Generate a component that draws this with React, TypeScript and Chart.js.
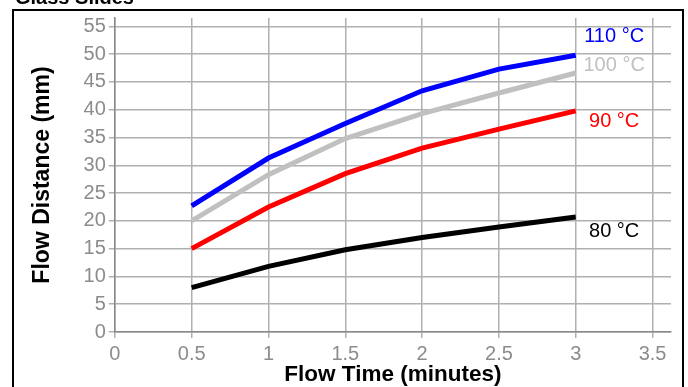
import React, { useEffect, useRef } from "react";
import { Chart, registerables } from "chart.js";

Chart.register(...registerables);

const times = [0.5, 1, 1.5, 2, 2.5, 3];
const series110 = [22.7, 31.3, 37.5, 43.4, 47.3, 49.8];
const series100 = [20.0, 28.3, 34.8, 39.3, 43.0, 46.6];
const series90 = [15.0, 22.5, 28.5, 33.1, 36.5, 39.8];
const series80 = [8.0, 11.8, 14.8, 17.0, 18.9, 20.7];
const seriesNames = ["110 °C", "100 °C", "90 °C", "80 °C"];
const seriesColors = ["#0000ff", "#c0c0c0", "#ff0000", "#000000"];
const labelTimes = [3.25, 3.25, 3.25, 3.25];
const labelValues = [53.1, 47.9, 37.9, 18.0];

const FONT = "'Liberation Sans', Arial, sans-serif";

const decorPlugin = {
  id: "decor",
  beforeDraw(chart: any) {
    const ctx = chart.ctx;
    ctx.save();
    ctx.fillStyle = "#ffffff";
    ctx.fillRect(0, 0, chart.width, chart.height);
    ctx.restore();
  },
  afterDraw(chart: any) {
    const ctx = chart.ctx;
    const xs = chart.scales.x;
    const ys = chart.scales.y;
    ctx.save();
    // frame
    ctx.strokeStyle = "#000000";
    ctx.lineWidth = 2;
    ctx.strokeRect(13, 10, 670, 420);
    // title (cut off at top)
    ctx.fillStyle = "#000000";
    ctx.font = `bold 20px ${FONT}`;
    ctx.textAlign = "left";
    ctx.textBaseline = "alphabetic";
    ctx.fillText("Glass Slides", 15, 4);
    // series labels
    ctx.font = `20px ${FONT}`;
    ctx.textAlign = "center";
    ctx.textBaseline = "middle";
    seriesNames.forEach((name, i) => {
      ctx.fillStyle = seriesColors[i];
      ctx.fillText(name, xs.getPixelForValue(labelTimes[i]), ys.getPixelForValue(labelValues[i]));
    });
    ctx.restore();
  },
};

export default function App() {
  const ref = useRef<HTMLCanvasElement>(null);
  useEffect(() => {
    document.body.style.margin = "0";
    const mk = (arr: number[]) => times.map((t, i) => ({ x: t, y: arr[i] }));
    const allSeries = [series110, series100, series90, series80];
    const chart = new Chart(ref.current!, {
      type: "line",
      data: {
        datasets: allSeries.map((s, i) => ({
          label: seriesNames[i],
          data: mk(s),
          borderColor: seriesColors[i],
          backgroundColor: seriesColors[i],
          borderWidth: 5,
          pointRadius: 0,
          tension: 0,
          fill: false,
        })),
      },
      options: {
        responsive: false,
        animation: false,
        devicePixelRatio: 1,
        layout: { padding: { left: 25, right: 17, top: 18, bottom: 0 } },
        plugins: { legend: { display: false }, tooltip: { enabled: false }, title: { display: false } },
        scales: {
          x: {
            type: "linear",
            min: 0,
            max: 3.62,
            ticks: {
              stepSize: 0.5,
              includeBounds: false,
              color: "#8c8c8c",
              font: { family: FONT, size: 20 },
              padding: 4.5,
              maxRotation: 0,
              callback: (v: any) => `${v}`,
            },
            grid: { color: "#b0b0b0", lineWidth: 1.5, tickLength: 6 },
            border: { display: true, color: "#888888", width: 1.5 },
            title: {
              display: true,
              text: "Flow Time (minutes)",
              color: "#000000",
              font: { family: FONT, size: 22.5, weight: "bold" },
              padding: { top: -10, bottom: -1 },
            },
          },
          y: {
            type: "linear",
            min: 0,
            max: 56.5,
            ticks: {
              stepSize: 5,
              includeBounds: false,
              color: "#8c8c8c",
              font: { family: FONT, size: 20 },
              padding: 3,
            },
            grid: { color: "#b0b0b0", lineWidth: 1.5, tickLength: 6 },
            border: { display: true, color: "#888888", width: 1.5 },
            title: {
              display: true,
              text: "Flow Distance (mm)",
              color: "#000000",
              font: { family: FONT, size: 23, weight: "bold" },
              padding: { top: 4, bottom: 24 },
            },
          },
        },
      },
      plugins: [decorPlugin],
    });
    return () => chart.destroy();
  }, []);
  return (
    <div style={{ position: "absolute", left: 0, top: 0, width: 688, height: 387 }}>
      <canvas ref={ref} width={688} height={387} style={{ display: "block" }} />
    </div>
  );
}
